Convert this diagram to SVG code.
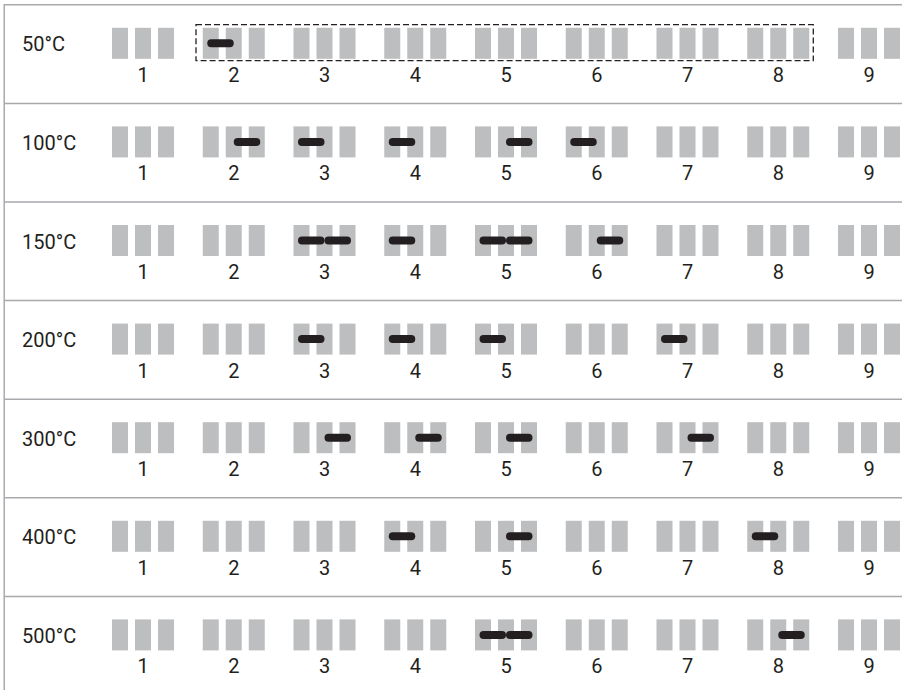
<svg xmlns="http://www.w3.org/2000/svg" xmlns:xlink="http://www.w3.org/1999/xlink" width="902" height="690" viewBox="0 0 902 690">
<style>
.bar{fill:#BCBEC0}
.sep{stroke:#A7A9AC;stroke-width:1.5;fill:none}
.band{stroke:#231F20;stroke-width:8;stroke-linecap:round}
.t{font-family:Roboto,"Liberation Sans",sans-serif;font-size:20px;fill:#231F20}
.num{text-anchor:middle}
.box{fill:none;stroke:#231F20;stroke-width:1.3;stroke-dasharray:6 3}
</style>
<defs>
<g id="lane">
<rect class="bar" x="0" y="0" width="16" height="31"/>
<rect class="bar" x="23" y="0" width="16" height="31"/>
<rect class="bar" x="46" y="0" width="16" height="31"/>
</g>
<g id="lanes">
<use xlink:href="#lane" x="112"/>
<use xlink:href="#lane" x="202.75"/>
<use xlink:href="#lane" x="293.5"/>
<use xlink:href="#lane" x="384.25"/>
<use xlink:href="#lane" x="475"/>
<use xlink:href="#lane" x="565.75"/>
<use xlink:href="#lane" x="656.5"/>
<use xlink:href="#lane" x="747.25"/>
<use xlink:href="#lane" x="838"/>
<text class="t num" x="143" y="54">1</text>
<text class="t num" x="233.75" y="54">2</text>
<text class="t num" x="324.5" y="54">3</text>
<text class="t num" x="415.25" y="54">4</text>
<text class="t num" x="506" y="54">5</text>
<text class="t num" x="596.75" y="54">6</text>
<text class="t num" x="687.5" y="54">7</text>
<text class="t num" x="778.25" y="54">8</text>
<text class="t num" x="869" y="54">9</text>
</g>
</defs>
<g id="frame">
<line class="sep" x1="4.2" y1="4.8" x2="902" y2="4.8"/>
<line class="sep" x1="4.2" y1="4" x2="4.2" y2="690"/>
<line class="sep" x1="4.2" y1="103.4" x2="902" y2="103.4"/>
<line class="sep" x1="4.2" y1="202" x2="902" y2="202"/>
<line class="sep" x1="4.2" y1="300.6" x2="902" y2="300.6"/>
<line class="sep" x1="4.2" y1="399.2" x2="902" y2="399.2"/>
<line class="sep" x1="4.2" y1="497.8" x2="902" y2="497.8"/>
<line class="sep" x1="4.2" y1="596.4" x2="902" y2="596.4"/>
</g>
<g id="row-50C" transform="translate(0,27.8)">
<use xlink:href="#lanes"/>
<text class="t" x="22" y="23.5">50°C</text>
<line class="band" x1="211.25" y1="15.5" x2="229.75" y2="15.5"/>
<rect class="box" x="196" y="-3.1" width="617.3" height="36"/>
</g>
<g id="row-100C" transform="translate(0,126.4)">
<use xlink:href="#lanes"/>
<text class="t" x="22" y="23.5">100°C</text>
<line class="band" x1="237.75" y1="15.5" x2="256.25" y2="15.5"/>
<line class="band" x1="302" y1="15.5" x2="320.5" y2="15.5"/>
<line class="band" x1="392.75" y1="15.5" x2="411.25" y2="15.5"/>
<line class="band" x1="510" y1="15.5" x2="528.5" y2="15.5"/>
<line class="band" x1="574.25" y1="15.5" x2="592.75" y2="15.5"/>
</g>
<g id="row-150C" transform="translate(0,225)">
<use xlink:href="#lanes"/>
<text class="t" x="22" y="23.5">150°C</text>
<line class="band" x1="302" y1="15.5" x2="320.5" y2="15.5"/>
<line class="band" x1="328.5" y1="15.5" x2="347" y2="15.5"/>
<line class="band" x1="392.75" y1="15.5" x2="411.25" y2="15.5"/>
<line class="band" x1="483.5" y1="15.5" x2="502" y2="15.5"/>
<line class="band" x1="510" y1="15.5" x2="528.5" y2="15.5"/>
<line class="band" x1="600.75" y1="15.5" x2="619.25" y2="15.5"/>
</g>
<g id="row-200C" transform="translate(0,323.6)">
<use xlink:href="#lanes"/>
<text class="t" x="22" y="23.5">200°C</text>
<line class="band" x1="302" y1="15.5" x2="320.5" y2="15.5"/>
<line class="band" x1="392.75" y1="15.5" x2="411.25" y2="15.5"/>
<line class="band" x1="483.5" y1="15.5" x2="502" y2="15.5"/>
<line class="band" x1="665" y1="15.5" x2="683.5" y2="15.5"/>
</g>
<g id="row-300C" transform="translate(0,422.2)">
<use xlink:href="#lanes"/>
<text class="t" x="22" y="23.5">300°C</text>
<line class="band" x1="328.5" y1="15.5" x2="347" y2="15.5"/>
<line class="band" x1="419.25" y1="15.5" x2="437.75" y2="15.5"/>
<line class="band" x1="510" y1="15.5" x2="528.5" y2="15.5"/>
<line class="band" x1="691.5" y1="15.5" x2="710" y2="15.5"/>
</g>
<g id="row-400C" transform="translate(0,520.8)">
<use xlink:href="#lanes"/>
<text class="t" x="22" y="23.5">400°C</text>
<line class="band" x1="392.75" y1="15.5" x2="411.25" y2="15.5"/>
<line class="band" x1="510" y1="15.5" x2="528.5" y2="15.5"/>
<line class="band" x1="755.75" y1="15.5" x2="774.25" y2="15.5"/>
</g>
<g id="row-500C" transform="translate(0,619.4)">
<use xlink:href="#lanes"/>
<text class="t" x="22" y="23.5">500°C</text>
<line class="band" x1="483.5" y1="15.5" x2="502" y2="15.5"/>
<line class="band" x1="510" y1="15.5" x2="528.5" y2="15.5"/>
<line class="band" x1="782.25" y1="15.5" x2="800.75" y2="15.5"/>
</g>
</svg>
